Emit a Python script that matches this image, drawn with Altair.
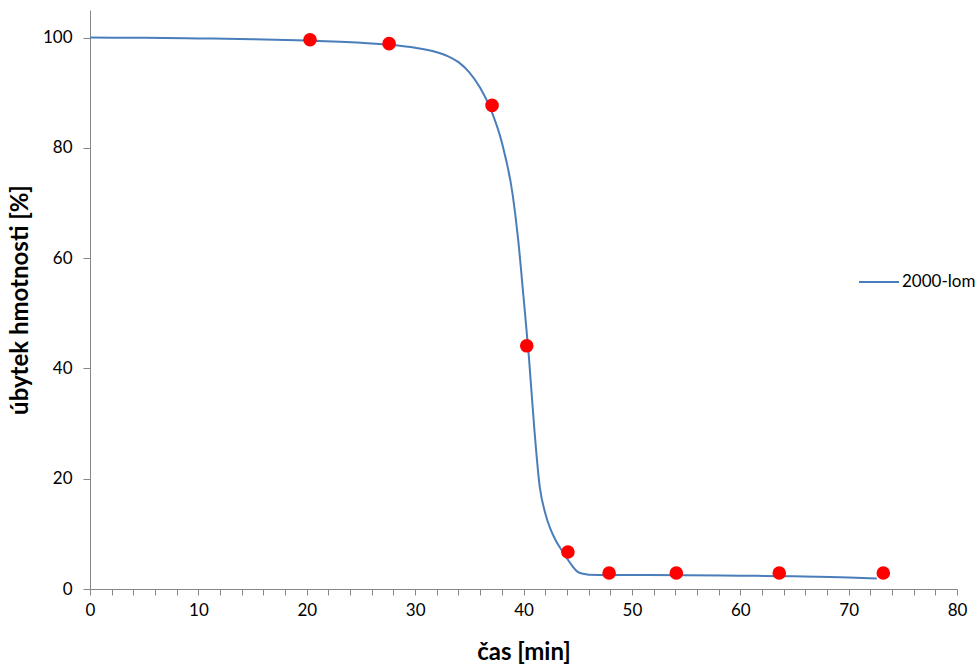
import altair as alt
import pandas as pd

# Measured weight loss (red markers)
meas_t = [20.3, 27.6, 37.1, 40.3, 44.1, 47.9, 54.1, 63.6, 73.2]
meas_loss = [99.6, 98.9, 87.7, 44.1, 6.7, 2.9, 2.9, 2.9, 2.9]

# Fitted curve "2000-lom"
fit_t = [0, 5, 10, 15, 20, 25, 28, 30, 32, 33, 34, 35, 36, 37, 38, 39, 39.5,
         40, 40.5, 41, 41.5, 42, 42.5, 43, 43.5, 44, 44.5, 45, 45.5, 46, 48,
         50, 55, 60, 65, 70, 72.6]
fit_loss = [100, 99.95, 99.85, 99.7, 99.45, 99.05, 98.65, 98.15, 97.35, 96.65,
            95.55, 93.7, 90.9, 86.9, 81.0, 71.5, 63.5, 53, 42, 29, 18.5, 13.8,
            10.8, 8.7, 7.1, 5.6, 4.2, 3.1, 2.75, 2.6, 2.55, 2.55, 2.5, 2.42,
            2.3, 2.1, 1.9]

series_name = "2000-lom"
x_ticks = list(range(0, 81, 2))
y_ticks = [0, 20, 40, 60, 80, 100]

font = "Lato"

meas = pd.DataFrame({"t": meas_t, "loss": meas_loss})
fit = pd.DataFrame({"t": fit_t, "loss": fit_loss, "series": series_name})

x_scale = alt.Scale(domain=[0, 80], nice=False, zero=False)
y_scale = alt.Scale(domain=[0, 105], nice=False)

x_axis = alt.Axis(
    title="čas [min]", values=x_ticks,
    labelExpr="datum.value % 10 === 0 ? format(datum.value, 'd') : ''",
    labelOverlap=False, labelFlush=False, labelBound=False,
    grid=False, domainColor="#868686", tickColor="#868686", tickSize=6,
    labelFont=font, labelFontSize=17, labelColor="#000000", labelPadding=7,
    titleFont=font, titleFontSize=24, titleFontWeight="bold",
    titleColor="#000000", titlePadding=22,
)
y_axis = alt.Axis(
    title="úbytek hmotnosti [%]", values=y_ticks,
    labelOverlap=False, labelFlush=False,
    grid=False, domainColor="#868686", tickColor="#868686", tickSize=7,
    labelFont=font, labelFontSize=17, labelColor="#000000", labelPadding=11,
    titleFont=font, titleFontSize=24, titleFontWeight="bold",
    titleColor="#000000", titlePadding=10,
)

line = alt.Chart(fit).mark_line(strokeWidth=2, interpolate="monotone").encode(
    x=alt.X("t:Q", scale=x_scale, axis=x_axis),
    y=alt.Y("loss:Q", scale=y_scale, axis=y_axis),
    color=alt.Color(
        "series:N",
        scale=alt.Scale(range=["#4A7EBB"]),
        legend=alt.Legend(
            title=None, orient="none", legendX=768, legendY=251,
            symbolType="stroke", symbolSize=1600, symbolStrokeWidth=2,
            labelFont=font, labelFontSize=17, labelColor="#000000",
            labelOffset=2, padding=0,
        ),
    ),
)

points = alt.Chart(meas).mark_circle(size=185, color="#FF0000", opacity=1).encode(
    x=alt.X("t:Q", scale=x_scale, axis=x_axis),
    y=alt.Y("loss:Q", scale=y_scale, axis=y_axis),
)

chart = (
    alt.layer(line, points)
    .properties(
        width=867, height=579,
        autosize=alt.AutoSizeParams(type="none"),
        padding={"left": 90, "top": 10, "right": 21, "bottom": 80},
        background="#FFFFFF",
    )
    .configure_view(stroke=None)
)

chart.save("out.html", embed_options={"renderer": "svg", "actions": False})
